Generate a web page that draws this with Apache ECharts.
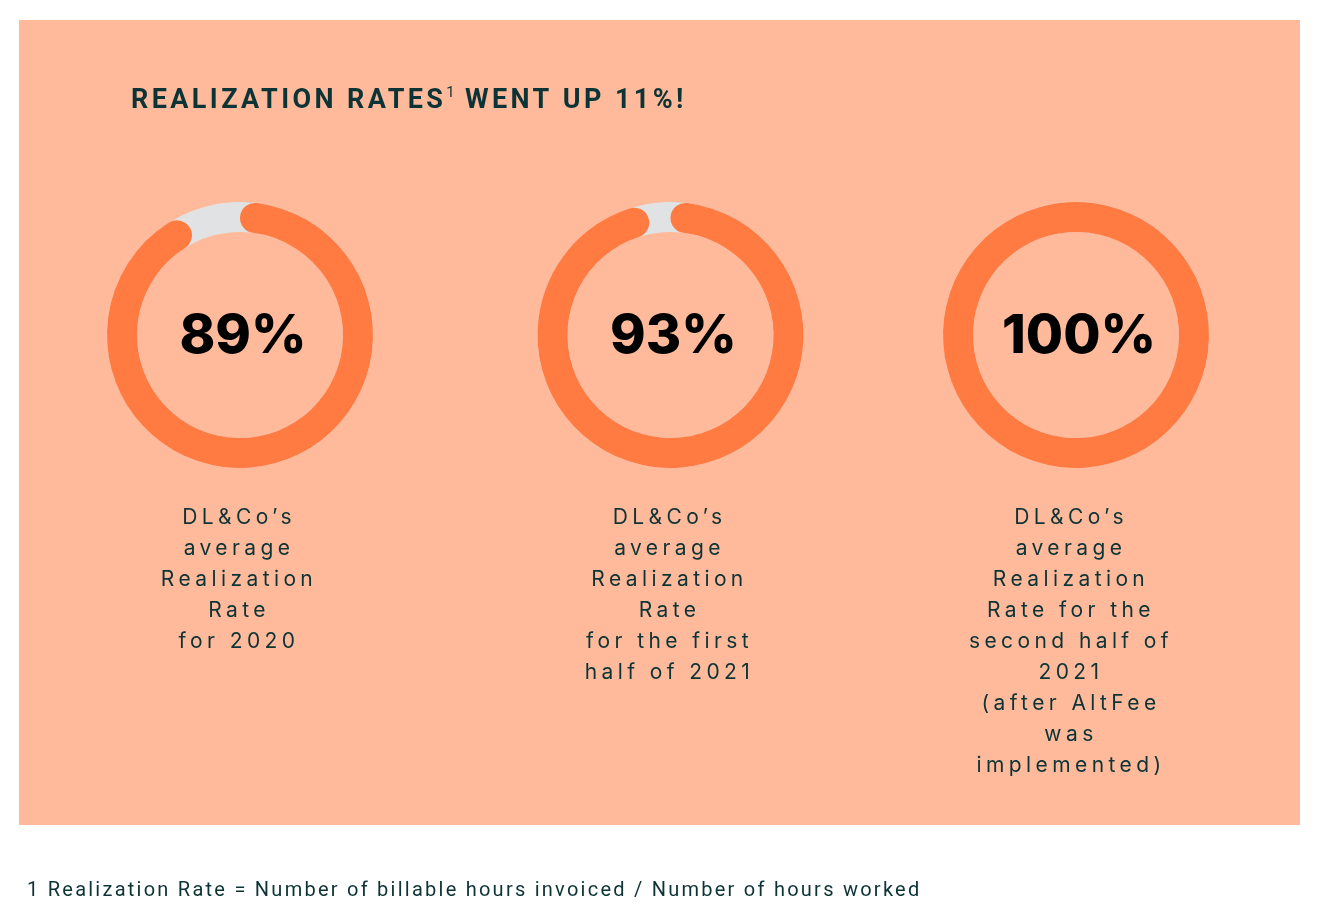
<!DOCTYPE html>
<html>
<head>
<meta charset="utf-8">
<script src="https://cdn.jsdelivr.net/npm/echarts@6/dist/echarts.min.js"></script>
<style>
html,body{margin:0;padding:0;background:#ffffff;}
#chart{width:1324px;height:922px;}
</style>
</head>
<body>
<div id="chart"></div>
<script>
// ---- data ----
const categories = [
  "DL&Co\u2019s\naverage\nRealization\nRate\nfor 2020",
  "DL&Co\u2019s\naverage\nRealization\nRate\nfor the first\nhalf of 2021",
  "DL&Co\u2019s\naverage\nRealization\nRate for the\nsecond half of\n2021\n(after AltFee\nwas\nimplemented)"
];
const rates = [89, 93, 100];
const titleMain = "REALIZATION RATES";
const titleSup = "1";
const titleEnd = " WENT UP 11%!";
const footnote = "1 Realization Rate = Number of billable hours invoiced / Number of hours worked";

// ---- letter spacing support for canvas text ----
function spacingFor(font) {
  if (/Inter/.test(font) && /21px/.test(font)) return '4.4px';
  if (/Roboto/.test(font) && /(bold|700)/.test(font)) return '3.4px';
  if (/Roboto/.test(font) && /20px/.test(font)) return '2.25px';
  return '0px';
}
const P = CanvasRenderingContext2D.prototype;
const oFill = P.fillText, oMeasure = P.measureText;
P.fillText = function () { try { this.letterSpacing = spacingFor(this.font); } catch (e) {} return oFill.apply(this, arguments); };
P.measureText = function () { try { this.letterSpacing = spacingFor(this.font); } catch (e) {} return oMeasure.apply(this, arguments); };

const chart = echarts.init(document.getElementById('chart'), null, { renderer: 'canvas' });

const centersX = [240, 670.5, 1076];
const labelShiftX = [-1, -1, -5];
const centerY = 335;
const labelFirstLineY = 518;
const labelLineHeight = 31;
const ORANGE = '#FF7B41';
const TRACK = '#E1E2E4';
const INK = '#0C3336';

const series = rates.map(function (v, i) {
  const nLines = categories[i].split('\n').length;
  const off = labelFirstLineY - centerY + (nLines - 1) / 2 * labelLineHeight;
  return {
    type: 'gauge',
    center: [centersX[i], centerY],
    radius: 133,
    startAngle: 82.7,
    endAngle: -277.3,
    min: 0,
    max: 100,
    silent: true,
    animation: false,
    axisLine: { show: true, roundCap: false, lineStyle: { width: 30, color: [[1, TRACK]] } },
    progress: { show: true, width: 30, roundCap: true, itemStyle: { color: ORANGE } },
    pointer: { show: false },
    anchor: { show: false },
    axisTick: { show: false },
    splitLine: { show: false },
    axisLabel: { show: false },
    title: {
      show: true,
      offsetCenter: [labelShiftX[i], off],
      color: INK,
      fontFamily: 'Inter',
      fontSize: 21,
      lineHeight: labelLineHeight
    },
    detail: {
      show: true,
      offsetCenter: [3, 2],
      formatter: '{value}%',
      color: '#000000',
      fontFamily: 'Inter',
      fontWeight: 800,
      fontSize: 54
    },
    data: [{ value: v, name: categories[i] }]
  };
});

chart.setOption({
  backgroundColor: '#ffffff',
  animation: false,
  graphic: [
    { type: 'rect', z: -10, silent: true, shape: { x: 19, y: 20, width: 1281, height: 805 }, style: { fill: '#FFBA9B' } },
    { type: 'text', silent: true, style: { text: footnote, x: 27, y: 891, verticalAlign: 'middle', fill: INK, font: '20px Roboto' } }
  ],
  title: {
    left: 131,
    top: 86,
    padding: 0,
    text: '{m|' + titleMain + '}{s|' + titleSup + '}{m|' + titleEnd + '}',
    textStyle: {
      rich: {
        m: { fontFamily: 'Roboto', fontWeight: 'bold', fontSize: 27, lineHeight: 27, color: INK, padding: [4, 0, 0, 0] },
        s: { fontFamily: 'Roboto', fontWeight: 'normal', fontSize: 15, lineHeight: 16, color: INK, verticalAlign: 'top' }
      }
    }
  },
  series: series
});
</script>
</body>
</html>
